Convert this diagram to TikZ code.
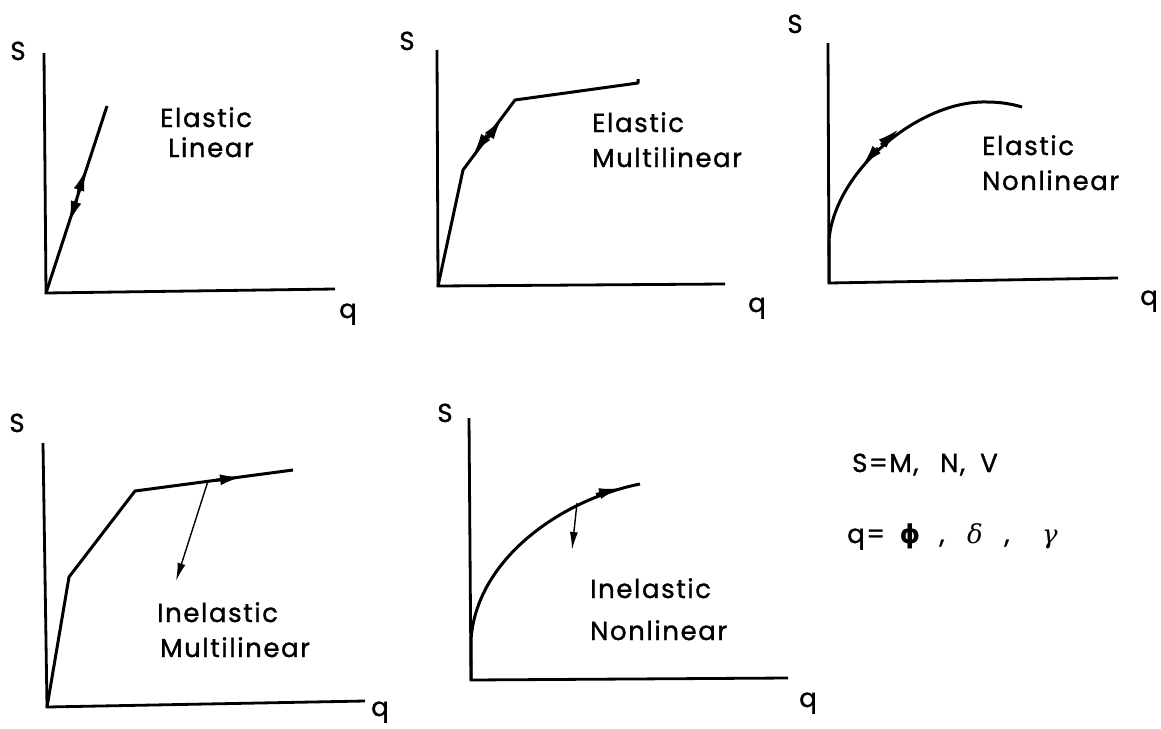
\documentclass[tikz,border=0pt]{standalone}
\usepackage{fontspec}
\setmainfont{Poppins}[LetterSpace=6,FakeBold=1.2]
\newfontfamily\dvsans{DejaVu Sans}
\newfontfamily\dvserif{DejaVu Serif}
\usetikzlibrary{arrows.meta}
\tikzset{
  axis/.style={line width=2.8pt},
  curve/.style={line width=3pt, line join=round},
  tipline/.style={line width=3pt, -{Latex[length=22pt,width=11pt]}},
  thinarrow/.style={line width=1.4pt, -{Latex[length=18pt,width=8pt]}},
  lbl/.style={inner sep=0pt, anchor=base west, font=\fontsize{26}{30}\selectfont},
  axlbl/.style={inner sep=0pt, anchor=base, font=\fontsize{26}{30}\selectfont},
  sym/.style={inner sep=0pt, anchor=base, font=\fontsize{26}{30}\selectfont}
}
\begin{document}
\begin{tikzpicture}[x=1pt,y=-1pt]
\useasboundingbox (0,0) rectangle (1161,728);

% ---------- Panel 1: Elastic Linear ----------
\coordinate (o1) at (46,293);
\coordinate (t1) at (44,53);
\coordinate (e1) at (335,289);
\coordinate (p1) at (107,106);
\draw[axis] (t1) -- (o1) -- (e1);
\draw[curve] (o1) -- (p1);
\coordinate (a1s) at (78,193); \coordinate (a1t) at (86,169);
\coordinate (b1s) at (77,199); \coordinate (b1t) at (69,223);
\draw[tipline] (a1s) -- (a1t);
\draw[tipline] (b1s) -- (b1t);
\node[axlbl] (S1) at (18,60) {S};
\node[axlbl] (q1) at (348,318) {q};
\node[lbl] (l1a) at (160,127) {Elastic};
\node[lbl] (l1b) at (168,157) {Linear};

% ---------- Panel 2: Elastic Multilinear ----------
\coordinate (o2) at (438,286);
\coordinate (t2) at (437,50);
\coordinate (e2) at (725,284);
\coordinate (k21) at (463,170);
\coordinate (k22) at (515,100);
\coordinate (k23) at (638,83);
\coordinate (k24) at (638,79);
\draw[axis] (t2) -- (o2) -- (e2);
\draw[curve] (o2) -- (k21) -- (k22) -- (k23) -- (k24);
\coordinate (a2s) at (488,138); \coordinate (a2t) at (502,118);
\coordinate (b2s) at (487,135); \coordinate (b2t) at (473,155);
\draw[tipline] (a2s) -- (a2t);
\draw[tipline] (b2s) -- (b2t);
\node[axlbl] (S2) at (407,50) {S};
\node[axlbl] (q2) at (757,312) {q};
\node[lbl] (l2a) at (592,132) {Elastic};
\node[lbl] (l2b) at (592,167) {Multilinear};

% ---------- Panel 3: Elastic Nonlinear ----------
\coordinate (o3) at (829,283);
\coordinate (t3) at (828,43);
\coordinate (e3) at (1118,278);
\coordinate (c30) at (829,240);
\coordinate (c3p) at (987,102);
\coordinate (c3e) at (1022,107);
\draw[axis] (t3) -- (o3) -- (e3);
\draw[curve] (o3) -- (c30) .. controls (835,170) and (920,100) .. (c3p)
  .. controls (1000,102) and (1012,104) .. (c3e);
\coordinate (a3s) at (881,145); \coordinate (a3t) at (899,129);
\coordinate (b3s) at (878,148); \coordinate (b3t) at (862,166);
\draw[tipline] (a3s) -- (a3t);
\draw[tipline] (b3s) -- (b3t);
\node[axlbl] (S3) at (795,33) {S};
\node[axlbl] (q3) at (1149,305) {q};
\node[lbl] (l3a) at (982,155) {Elastic};
\node[lbl] (l3b) at (982,190) {Nonlinear};

% ---------- Panel 4: Inelastic Multilinear ----------
\coordinate (o4) at (47,707);
\coordinate (t4) at (43,443);
\coordinate (e4) at (365,701);
\coordinate (k41) at (69,577);
\coordinate (k42) at (135,491);
\coordinate (k43) at (293,470);
\draw[axis] (t4) -- (o4) -- (e4);
\draw[curve] (o4) -- (k41) -- (k42) -- (k43);
\coordinate (a4s) at (216,480.3); \coordinate (a4t) at (242,477);
\draw[tipline] (a4s) -- (a4t);
\coordinate (u4s) at (208,481); \coordinate (u4t) at (176,581);
\draw[thinarrow] (u4s) -- (u4t);
\node[axlbl] (S4) at (17,432) {S};
\node[axlbl] (q4) at (380,716) {q};
\node[lbl] (l4a) at (157,622) {Inelastic};
\node[lbl] (l4b) at (160,657) {Multilinear};

% ---------- Panel 5: Inelastic Nonlinear ----------
\coordinate (o5) at (471,680);
\coordinate (t5) at (469,418);
\coordinate (e5) at (788,678);
\coordinate (c50) at (471,640);
\coordinate (c5e) at (640,484);
\draw[axis] (t5) -- (o5) -- (e5);
\draw[curve] (o5) -- (c50) .. controls (476,560) and (560,500) .. (c5e);
\coordinate (a5s) at (596,494.5); \coordinate (a5t) at (621,488);
\draw[tipline] (a5s) -- (a5t);
\coordinate (u5s) at (577,503); \coordinate (u5t) at (572,550);
\draw[thinarrow] (u5s) -- (u5t);
\node[axlbl] (S5) at (445,422) {S};
\node[axlbl] (q5) at (808,707) {q};
\node[lbl] (l5a) at (590,598) {Inelastic};
\node[lbl] (l5b) at (590,640) {Nonlinear};

% ---------- Legend ----------
\node[lbl] (leg1) at (852,472) {S=M,};
\node[lbl] (leg2) at (940,472) {N,};
\node[lbl] (leg3) at (980,472) {V};
\node[lbl] (leg4) at (847,543) {q=};
\node[sym] (leg5) at (910,543) {\dvsans\bfseries ϕ};
\node[sym] (leg6) at (942,543) {,};
\node[sym] (leg7) at (975,543) {\dvserif\itshape δ};
\node[sym] (leg8) at (1007,543) {,};
\node[sym] (leg9) at (1050,543) {\dvserif\itshape γ};
\end{tikzpicture}
\end{document}
